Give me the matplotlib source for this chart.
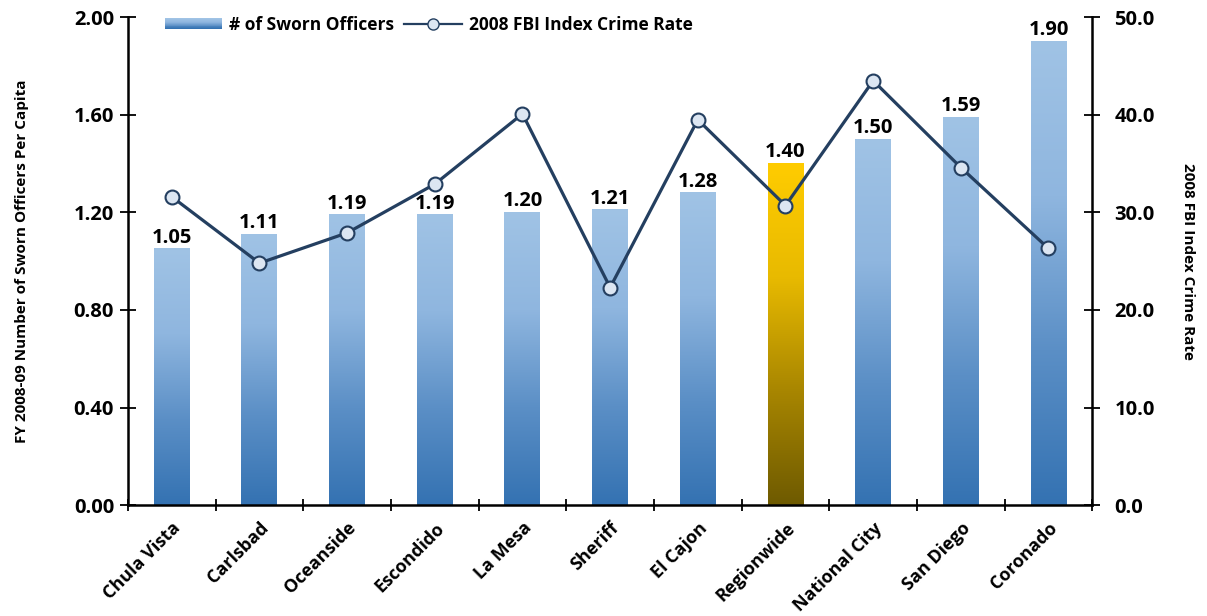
import numpy as np
import matplotlib
matplotlib.use("Agg")
import matplotlib.pyplot as plt
from matplotlib.colors import LinearSegmentedColormap
from matplotlib.legend_handler import HandlerBase
from matplotlib.patches import Rectangle
from matplotlib.lines import Line2D

cities = ["Chula Vista", "Carlsbad", "Oceanside", "Escondido", "La Mesa", "Sheriff",
          "El Cajon", "Regionwide", "National City", "San Diego", "Coronado"]
officers = [1.05, 1.11, 1.19, 1.19, 1.20, 1.21, 1.28, 1.40, 1.50, 1.59, 1.90]
crime_rate = [31.6, 24.8, 27.9, 32.9, 40.1, 22.3, 39.5, 30.7, 43.5, 34.6, 26.3]
highlight = "Regionwide"

plt.rcParams['font.family'] = ['Open Sans', 'DejaVu Sans']
plt.rcParams['font.weight'] = 'bold'

blue_cmap = LinearSegmentedColormap.from_list("blu", ["#3472b2", "#5b8fc6", "#8fb6df", "#a0c3e5"])
gold_cmap = LinearSegmentedColormap.from_list("gld", ["#6e5a00", "#a88600", "#e8ba00", "#ffcc00"])
navy = "#243f60"

fig = plt.figure(figsize=(12.07, 6.16), dpi=100)
ax = fig.add_axes([0.106, 0.180, 0.799, 0.792])
ax2 = ax.twinx()

x = np.arange(len(cities))
bars = ax.bar(x, officers, width=0.41, color="none", zorder=2)
grad = np.linspace(0, 1, 256).reshape(-1, 1)
for city, b in zip(cities, bars):
    cmap = gold_cmap if city == highlight else blue_cmap
    x0, w, h = b.get_x(), b.get_width(), b.get_height()
    ax.imshow(grad, cmap=cmap, origin="lower", aspect="auto",
              extent=[x0, x0 + w, 0, h], zorder=2, interpolation="bicubic")
    ax.text(x0 + w / 2, h + 0.005, f"{h:.2f}", ha="center", va="bottom",
            fontsize=14.5, fontweight="bold", color="black")

ax.set_xlim(-0.5, len(cities) - 0.5)
ax.set_ylim(0, 2.0)
ax.set_yticks(np.arange(0, 2.01, 0.4))
ax.set_yticklabels([f"{v:.2f}" for v in np.arange(0, 2.01, 0.4)])
ax.set_xticks(x)
ax.set_xticklabels(cities, rotation=45, ha="right", rotation_mode="anchor", fontsize=13)
ax.set_xticks(np.arange(-0.5, len(cities) + 0.5), minor=True)
ax.tick_params(axis="x", which="major", length=0, pad=10)
ax.tick_params(axis="x", which="minor", direction="inout", length=8, width=1.3)
ax.tick_params(axis="y", direction="inout", length=12, width=1.3, labelsize=14.5, pad=4)
ax.set_ylabel("FY 2008-09 Number of Sworn Officers Per Capita", fontsize=11,
              fontweight="bold", labelpad=32)

ax2.plot(x, crime_rate, color=navy, lw=2.3, marker="o", markersize=10,
         markerfacecolor="#dce6f2", markeredgecolor=navy, markeredgewidth=1.5, zorder=3)
ax2.set_ylim(0, 50)
ax2.set_yticks(np.arange(0, 50.1, 10))
ax2.set_yticklabels([f"{v:.1f}" for v in np.arange(0, 50.1, 10)])
ax2.tick_params(axis="y", direction="inout", length=12, width=1.3, labelsize=14.5, pad=10)
ax2.set_ylabel("2008 FBI Index Crime Rate", fontsize=11, fontweight="bold",
               rotation=270, labelpad=29)

for a in (ax, ax2):
    a.spines["top"].set_visible(False)
    for s in ("left", "right", "bottom"):
        a.spines[s].set_linewidth(1.8)
ax.spines["right"].set_visible(False)
ax2.spines["left"].set_visible(False)
ax2.spines["bottom"].set_visible(False)


class GradientHandler(HandlerBase):
    def create_artists(self, legend, orig_handle, xdescent, ydescent, width, height, fontsize, trans):
        n = 12
        cols = blue_cmap(np.linspace(1, 0, n))
        arts = []
        for i in range(n):
            r = Rectangle((-xdescent, -ydescent + height * (1 - (i + 1) / n)), width, height / n,
                          facecolor=cols[i], edgecolor="none", transform=trans)
            arts.append(r)
        return arts


bar_handle = Rectangle((0, 0), 1, 1)
line_handle = Line2D([], [], color=navy, lw=1.6, marker="o", markersize=8,
                     markerfacecolor="#dce6f2", markeredgecolor=navy)
ax2.legend([bar_handle, line_handle], ["# of Sworn Officers", "2008 FBI Index Crime Rate"],
           handler_map={Rectangle: GradientHandler()}, loc="upper left",
           bbox_to_anchor=(0.022, 1.035), ncol=2, frameon=False, fontsize=12.5,
           handlelength=3.3, handleheight=0.6, columnspacing=0.6, handletextpad=0.4)

fig.savefig("out.png", dpi=100)
